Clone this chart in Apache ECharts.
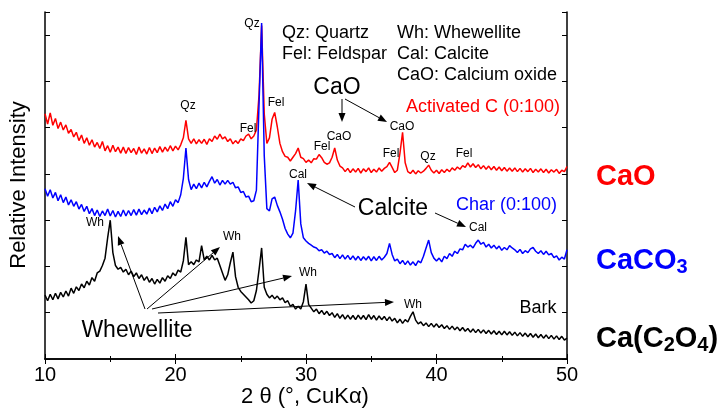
<!DOCTYPE html>
<html><head><meta charset="utf-8">
<script src="https://cdn.jsdelivr.net/npm/echarts@6/dist/echarts.min.js"></script>
<style>html,body{margin:0;padding:0;background:#fff}#c{width:728px;height:410px}</style>
</head><body><div id="c"></div>
<script>
// sampling grid of the diffractograms (2θ, degrees)
const angleStart = 10, angleStep = 0.2;
const xTicks = [10, 20, 30, 40, 50];

// Activated C (0:100) -> CaO
const redValues = [
5.30,5.08,5.32,5.05,5.20,4.98,5.12,4.95,5.06,4.88,
4.96,4.80,4.90,4.72,4.84,4.66,4.78,4.62,4.74,4.58,
4.68,4.55,4.70,4.50,4.61,4.47,4.62,4.48,4.58,4.45,
4.58,4.44,4.57,4.46,4.55,4.42,4.58,4.45,4.54,4.43,
4.57,4.44,4.56,4.46,4.59,4.47,4.58,4.49,4.61,4.50,
4.60,4.52,4.63,4.78,5.16,4.76,4.66,4.76,4.65,4.74,
4.66,4.75,4.64,4.76,4.70,4.82,4.75,4.86,4.76,4.80,
4.70,4.76,4.65,4.72,4.66,4.76,4.72,4.82,4.86,4.76,
4.82,4.95,5.70,7.21,5.30,4.66,4.78,5.18,5.33,5.02,
4.66,4.48,4.38,4.36,4.28,4.36,4.44,4.56,4.36,4.33,
4.25,4.30,4.24,4.33,4.32,4.42,4.35,4.25,4.21,4.24,
4.36,4.56,4.30,4.17,4.13,4.05,4.12,4.03,4.11,4.04,
4.12,4.02,4.11,4.05,4.13,4.03,4.10,4.04,4.13,4.06,
4.12,4.16,4.25,4.14,4.03,4.08,4.45,4.90,4.24,4.05,
4.01,4.08,4.00,4.07,4.02,4.06,4.12,4.19,4.08,4.02,
4.08,4.01,4.09,4.03,4.10,4.05,4.13,4.08,4.15,4.10,
4.18,4.14,4.24,4.15,4.22,4.14,4.20,4.11,4.18,4.10,
4.17,4.09,4.16,4.08,4.15,4.07,4.14,4.06,4.13,4.06,
4.13,4.05,4.12,4.04,4.11,4.05,4.12,4.03,4.10,4.04,
4.11,4.03,4.10,4.02,4.09,4.04,4.10,4.01,4.08,4.05,
4.16];

// Char (0:100) -> CaCO3
const blueValues = [
3.68,3.52,3.66,3.48,3.60,3.42,3.55,3.38,3.50,3.33,
3.44,3.30,3.40,3.24,3.34,3.19,3.30,3.14,3.25,3.10,
3.22,3.08,3.20,3.10,3.24,3.09,3.21,3.07,3.19,3.08,
3.22,3.09,3.21,3.10,3.23,3.11,3.24,3.12,3.22,3.13,
3.26,3.14,3.28,3.18,3.31,3.21,3.35,3.25,3.40,3.30,
3.44,3.38,3.55,3.90,4.56,3.88,3.66,3.78,3.68,3.80,
3.70,3.82,3.72,3.84,3.94,3.80,3.88,3.76,3.86,3.78,
3.86,3.78,3.82,3.70,3.72,3.60,3.62,3.50,3.52,3.40,
3.42,3.65,5.50,7.26,4.40,3.25,3.20,3.46,3.50,3.32,
3.18,3.02,2.82,2.70,2.62,2.72,3.20,3.87,2.92,2.62,
2.55,2.50,2.46,2.42,2.40,2.34,2.36,2.29,2.33,2.26,
2.28,2.19,2.26,2.17,2.25,2.16,2.24,2.15,2.23,2.14,
2.22,2.13,2.21,2.14,2.22,2.12,2.21,2.13,2.22,2.14,
2.20,2.28,2.50,2.26,2.12,2.16,2.06,2.13,2.04,2.12,
2.03,2.10,2.02,2.12,2.08,2.22,2.40,2.57,2.30,2.18,
2.12,2.18,2.10,2.22,2.17,2.28,2.22,2.33,2.28,2.38,
2.36,2.48,2.42,2.46,2.40,2.50,2.57,2.48,2.52,2.42,
2.48,2.40,2.46,2.38,2.44,2.35,2.41,2.36,2.45,2.40,
2.36,2.30,2.37,2.28,2.34,2.30,2.38,2.41,2.33,2.28,
2.34,2.26,2.33,2.25,2.28,2.19,2.23,2.14,2.20,2.16,
2.36];

// Bark -> Ca(C2O4)
const blackValues = [
1.38,1.26,1.40,1.28,1.42,1.30,1.44,1.34,1.47,1.36,
1.53,1.42,1.56,1.48,1.62,1.54,1.68,1.60,1.76,1.68,
1.86,1.90,2.02,2.18,2.62,3.00,2.30,2.02,1.94,1.98,
1.88,1.94,1.82,1.90,1.78,1.86,1.74,1.82,1.70,1.78,
1.66,1.74,1.62,1.72,1.64,1.76,1.68,1.80,1.74,1.86,
1.80,1.92,1.88,2.12,2.63,2.04,2.10,2.04,2.14,2.10,
2.45,2.14,2.22,2.14,2.24,2.14,2.18,2.02,1.86,1.70,
1.82,2.08,2.31,1.78,1.55,1.46,1.40,1.34,1.28,1.21,
1.26,1.48,1.92,2.40,1.55,1.40,1.32,1.38,1.30,1.36,
1.28,1.32,1.22,1.26,1.14,1.18,1.08,1.14,1.08,1.24,
1.62,1.18,1.10,1.02,1.08,0.98,1.05,0.96,1.03,0.94,
1.00,0.90,0.98,0.88,0.96,0.86,0.95,0.86,0.94,0.85,
0.95,0.86,0.94,0.85,0.96,0.86,0.94,0.84,0.93,0.85,
0.92,0.83,0.91,0.82,0.88,0.78,0.86,0.77,0.85,0.80,
0.92,1.02,0.84,0.76,0.80,0.72,0.78,0.70,0.77,0.69,
0.76,0.68,0.74,0.66,0.72,0.64,0.71,0.63,0.69,0.61,
0.68,0.60,0.66,0.58,0.65,0.57,0.64,0.56,0.63,0.55,
0.62,0.54,0.61,0.53,0.60,0.52,0.60,0.52,0.59,0.51,
0.58,0.50,0.57,0.49,0.56,0.48,0.55,0.47,0.54,0.46,
0.53,0.45,0.52,0.44,0.51,0.43,0.50,0.42,0.49,0.41,
0.45];

const FONT = 'Arial, "Liberation Sans", sans-serif';
const toPairs = vals => vals.map((v, i) => [+(angleStart + i * angleStep).toFixed(1), v]);

function txt(x, y, text, size, color, align, extra) {
  return {
    type: 'text', x: x, y: y, z: 50,
    style: Object.assign({ text: text, fontSize: size, fontFamily: FONT, fill: color || '#000',
      align: align || 'center', verticalAlign: 'middle' }, extra || {})
  };
}
function arrow(x1, y1, x2, y2) {
  const a = Math.atan2(y2 - y1, x2 - x1), L = 9, W = 3.5;
  const bx = x2 - L * Math.cos(a), by = y2 - L * Math.sin(a);
  return [
    { type: 'line', z: 50, shape: { x1: x1, y1: y1, x2: bx, y2: by }, style: { stroke: '#000', lineWidth: 1 } },
    { type: 'polygon', z: 50, shape: { points: [[x2, y2], [bx - W * Math.sin(a), by + W * Math.cos(a)], [bx + W * Math.sin(a), by - W * Math.cos(a)]] }, style: { fill: '#000' } }
  ];
}

const small = 12, big = 23, mid = 18, side = 29;
const ylabel = txt(19, 185, 'Relative Intensity', 22);
ylabel.rotation = Math.PI / 2;
const graphics = [
  txt(252, 24, 'Qz', small), txt(188, 106, 'Qz', small), txt(248, 129, 'Fel', small), txt(276, 103, 'Fel', small),
  txt(322, 147, 'Fel', small), txt(339, 137, 'CaO', small), txt(402, 127, 'CaO', small), txt(391, 154, 'Fel', small),
  txt(428, 157, 'Qz', small), txt(464, 154, 'Fel', small), txt(298, 175, 'Cal', small), txt(478, 228, 'Cal', small),
  txt(95, 223, 'Wh', small), txt(232, 237, 'Wh', small), txt(308, 273, 'Wh', small), txt(413, 305, 'Wh', small),
  txt(337, 88, 'CaO', big), txt(393, 209, 'Calcite', big), txt(137, 331, 'Whewellite', big), txt(538, 308, 'Bark', mid),
  txt(282, 33, 'Qz: Quartz', mid, '#000', 'left'), txt(282, 54, 'Fel: Feldspar', mid, '#000', 'left'),
  txt(397, 33, 'Wh: Whewellite', mid, '#000', 'left'), txt(397, 54, 'Cal: Calcite', mid, '#000', 'left'),
  txt(397, 75, 'CaO: Calcium oxide', mid, '#000', 'left'),
  txt(560, 107, 'Activated C (0:100)', mid, '#ff0000', 'right'),
  txt(557, 205, 'Char (0:100)', mid, '#0000ff', 'right'),
  ylabel,
  txt(305, 397, '2 θ (°, CuKα)', 22),
  txt(596, 177, '{m|CaO}', side, '#ff0000', 'left', { rich: { m: { fontSize: side, fontWeight: 'bold', fill: '#ff0000', fontFamily: FONT, lineHeight: 32 } } }),
  txt(596, 261, '{m|CaCO}{s|3}', side, '#0000ff', 'left', { rich: {
    m: { fontSize: side, fontWeight: 'bold', fill: '#0000ff', fontFamily: FONT, lineHeight: 32 },
    s: { fontSize: 20, fontWeight: 'bold', fill: '#0000ff', fontFamily: FONT, lineHeight: 10, verticalAlign: 'bottom' } } }),
  txt(596, 339, '{m|Ca(C}{s|2}{m|O}{s|4}{m|)}', side, '#000', 'left', { rich: {
    m: { fontSize: side, fontWeight: 'bold', fill: '#000', fontFamily: FONT, lineHeight: 32 },
    s: { fontSize: 20, fontWeight: 'bold', fill: '#000', fontFamily: FONT, lineHeight: 10, verticalAlign: 'bottom' } } })
];
[[342, 99, 342, 122], [345, 99, 387, 122], [355, 207, 307, 183], [435, 213, 466, 227],
 [145, 309, 118, 236], [147, 309, 220, 247], [152, 309, 292, 276], [158, 313, 394, 302]]
  .forEach(a => graphics.push(...arrow(a[0], a[1], a[2], a[3])));

const axisCommon = {
  type: 'value', axisLine: { show: true, lineStyle: { color: '#000', width: 1.5 } },
  axisTick: { show: true, inside: true, length: 5, lineStyle: { color: '#000' } },
  splitLine: { show: false }
};
const chart = echarts.init(document.getElementById('c'), null, { renderer: 'canvas' });
chart.setOption({
  animation: false,
  backgroundColor: '#fff',
  grid: { left: 45, right: 161, top: 12, bottom: 51, containLabel: false },
  xAxis: [
    Object.assign({}, axisCommon, { min: xTicks[0], max: xTicks[xTicks.length - 1], interval: 10, position: 'bottom',
      minorTick: { show: true, splitNumber: 2, length: 3, lineStyle: { color: '#000' } },
      axisLabel: { color: '#000', fontSize: 20, fontFamily: FONT, margin: 6 } }),
    Object.assign({}, axisCommon, { min: xTicks[0], max: xTicks[xTicks.length - 1], interval: 10, position: 'top',
      minorTick: { show: true, splitNumber: 2, length: 3, lineStyle: { color: '#000' } },
      axisLabel: { show: false } })
  ],
  yAxis: [
    Object.assign({}, axisCommon, { min: 0, max: 7.5, interval: 1, position: 'left', axisLabel: { show: false } }),
    Object.assign({}, axisCommon, { min: 0, max: 7.5, interval: 1, position: 'right', axisLabel: { show: false } })
  ],
  series: [
    { type: 'line', name: 'Activated C (0:100)', data: toPairs(redValues), showSymbol: false, symbol: 'none', lineStyle: { color: '#ff0000', width: 1.5 }, itemStyle: { color: '#ff0000' } },
    { type: 'line', name: 'Char (0:100)', data: toPairs(blueValues), showSymbol: false, symbol: 'none', lineStyle: { color: '#0000ff', width: 1.5 }, itemStyle: { color: '#0000ff' } },
    { type: 'line', name: 'Bark', data: toPairs(blackValues), showSymbol: false, symbol: 'none', lineStyle: { color: '#000', width: 1.5 }, itemStyle: { color: '#000' } }
  ],
  graphic: graphics
});
</script></body></html>
